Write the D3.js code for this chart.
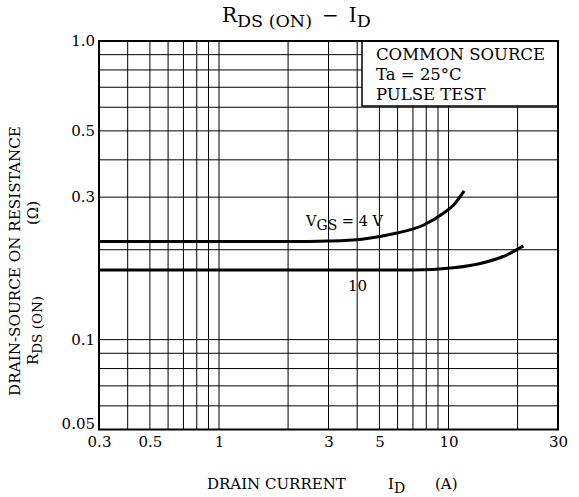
<!DOCTYPE html>
<html><head><meta charset="utf-8">
<script src="https://cdn.jsdelivr.net/npm/d3@7"></script>
<style>body{margin:0;background:#fff}svg text{font-family:"DejaVu Serif",serif;fill:#000}</style>
</head><body>
<svg id="c" width="579" height="497"></svg>
<script>
// ---- data ----
const xTickValues = [0.3, 0.5, 1, 3, 5, 10, 30];
const xTickLabels = ["0.3", "0.5", "1", "3", "5", "10", "30"];
const yTickValues = [0.05, 0.1, 0.3, 0.5, 1.0];
const yTickLabels = ["0.05", "0.1", "0.3", "0.5", "1.0"];
const xGridValues = [0.4, 0.5, 0.6, 0.7, 0.8, 0.9, 1, 2, 3, 4, 5, 6, 7, 8, 9, 10, 20];
const yGridValues = [0.06, 0.07, 0.08, 0.09, 0.1, 0.2, 0.3, 0.4, 0.5, 0.6, 0.7, 0.8, 0.9];
const vgs4Current = [0.3, 1, 2, 3, 4.2, 5.9, 7.8, 9.5, 10.5, 11.7];
const vgs4Resist  = [0.213, 0.213, 0.213, 0.214, 0.217, 0.227, 0.242, 0.265, 0.282, 0.315];
const vgs10Current = [0.3, 1, 3, 7, 10.5, 14.6, 17.9, 21.2];
const vgs10Resist  = [0.171, 0.171, 0.171, 0.171, 0.174, 0.182, 0.192, 0.206];
const legendLines = ["COMMON SOURCE", "Ta = 25°C", "PULSE TEST"];

// ---- layout ----
const L = 99, R = 558, T = 41, B = 429.5;
const svg = d3.select("#c");
const x = d3.scaleLog().domain([0.3, 30]).range([L, R]);
const y = d3.scaleLog().domain([0.05, 1]).range([B, T]);

// grid
const g = svg.append("g");
g.selectAll("line.v").data(xGridValues).join("line")
  .attr("x1", d => x(d)).attr("x2", d => x(d)).attr("y1", T).attr("y2", B)
  .attr("stroke", "#000").attr("stroke-width", 1);
g.selectAll("line.h").data(yGridValues).join("line")
  .attr("y1", d => y(d)).attr("y2", d => y(d)).attr("x1", L).attr("x2", R)
  .attr("stroke", "#000").attr("stroke-width", 1);

// curves
const line = d3.line().x(d => x(d[0])).y(d => y(d[1])).curve(d3.curveMonotoneX);
const s4 = vgs4Current.map((c, i) => [c, vgs4Resist[i]]);
const s10 = vgs10Current.map((c, i) => [c, vgs10Resist[i]]);
[s4, s10].forEach(s => svg.append("path").attr("d", line(s))
  .attr("fill", "none").attr("stroke", "#000").attr("stroke-width", 3));

// legend box
svg.append("rect").attr("x", 362).attr("y", T).attr("width", R - 362).attr("height", 65)
  .attr("fill", "#fff").attr("stroke", "#000").attr("stroke-width", 1.5);
legendLines.forEach((t, i) => svg.append("text").attr("x", 376).attr("y", 60 + i * 20)
  .attr("font-size", 16.5).text(t));

// frame
svg.append("rect").attr("x", L).attr("y", T).attr("width", R - L).attr("height", B - T)
  .attr("fill", "none").attr("stroke", "#000").attr("stroke-width", 2);

// axes tick labels
const xa = d3.axisBottom(x).tickValues(xTickValues).tickSize(0)
  .tickFormat((d, i) => xTickLabels[i]);
const gx = svg.append("g").attr("transform", `translate(0,${B})`).call(xa);
gx.select(".domain").remove();
gx.selectAll("text").attr("font-size", 15).attr("font-family", "DejaVu Serif").attr("dy", null).attr("y", 17);

const ya = d3.axisLeft(y).tickValues(yTickValues).tickSize(0)
  .tickFormat((d, i) => yTickLabels[i]);
const gy = svg.append("g").attr("transform", `translate(${L - 2},0)`).call(ya);
gy.select(".domain").remove();
gy.selectAll("text").attr("font-size", 15).attr("font-family", "DejaVu Serif").attr("x", -2)
  .attr("dy", (d) => d === 0.05 ? "-0.05em" : "0.32em");

// curve labels
const l4 = svg.append("text").attr("x", 306).attr("y", 226).attr("font-size", 14.5);
l4.append("tspan").text("V");
l4.append("tspan").attr("font-size", 14).attr("dy", 4).text("GS");
l4.append("tspan").attr("dy", -4).text(" = 4 V");
svg.append("text").attr("x", 348).attr("y", 291).attr("font-size", 15).text("10");

// title
const tt = svg.append("text").attr("x", 222).attr("y", 22).attr("font-size", 20);
tt.append("tspan").text("R");
tt.append("tspan").attr("font-size", 17.5).attr("dy", 5).text("DS (ON)");
tt.append("tspan").attr("dy", -5).text("\u2002−\u2002I");
tt.append("tspan").attr("font-size", 17.5).attr("dy", 5).text("D");

// x label
svg.append("text").attr("x", 207).attr("y", 489).attr("font-size", 15).text("DRAIN CURRENT");
const xi = svg.append("text").attr("x", 388).attr("y", 489).attr("font-size", 15);
xi.append("tspan").text("I");
xi.append("tspan").attr("font-size", 14).attr("dy", 4).text("D");
svg.append("text").attr("x", 435).attr("y", 489).attr("font-size", 15).text("(A)");

// y label
svg.append("text").attr("transform", "translate(20,261) rotate(-90)").attr("text-anchor", "middle")
  .attr("font-size", 15.2).text("DRAIN-SOURCE ON RESISTANCE");
const y2 = svg.append("text").attr("transform", "translate(38,365) rotate(-90)").attr("font-size", 15);
y2.append("tspan").text("R");
y2.append("tspan").attr("font-size", 13.5).attr("dy", 4).text("DS (ON)");
svg.append("text").attr("transform", "translate(38,213) rotate(-90)").attr("text-anchor", "middle")
  .attr("font-size", 15).text("(Ω)");
</script>
</body></html>
